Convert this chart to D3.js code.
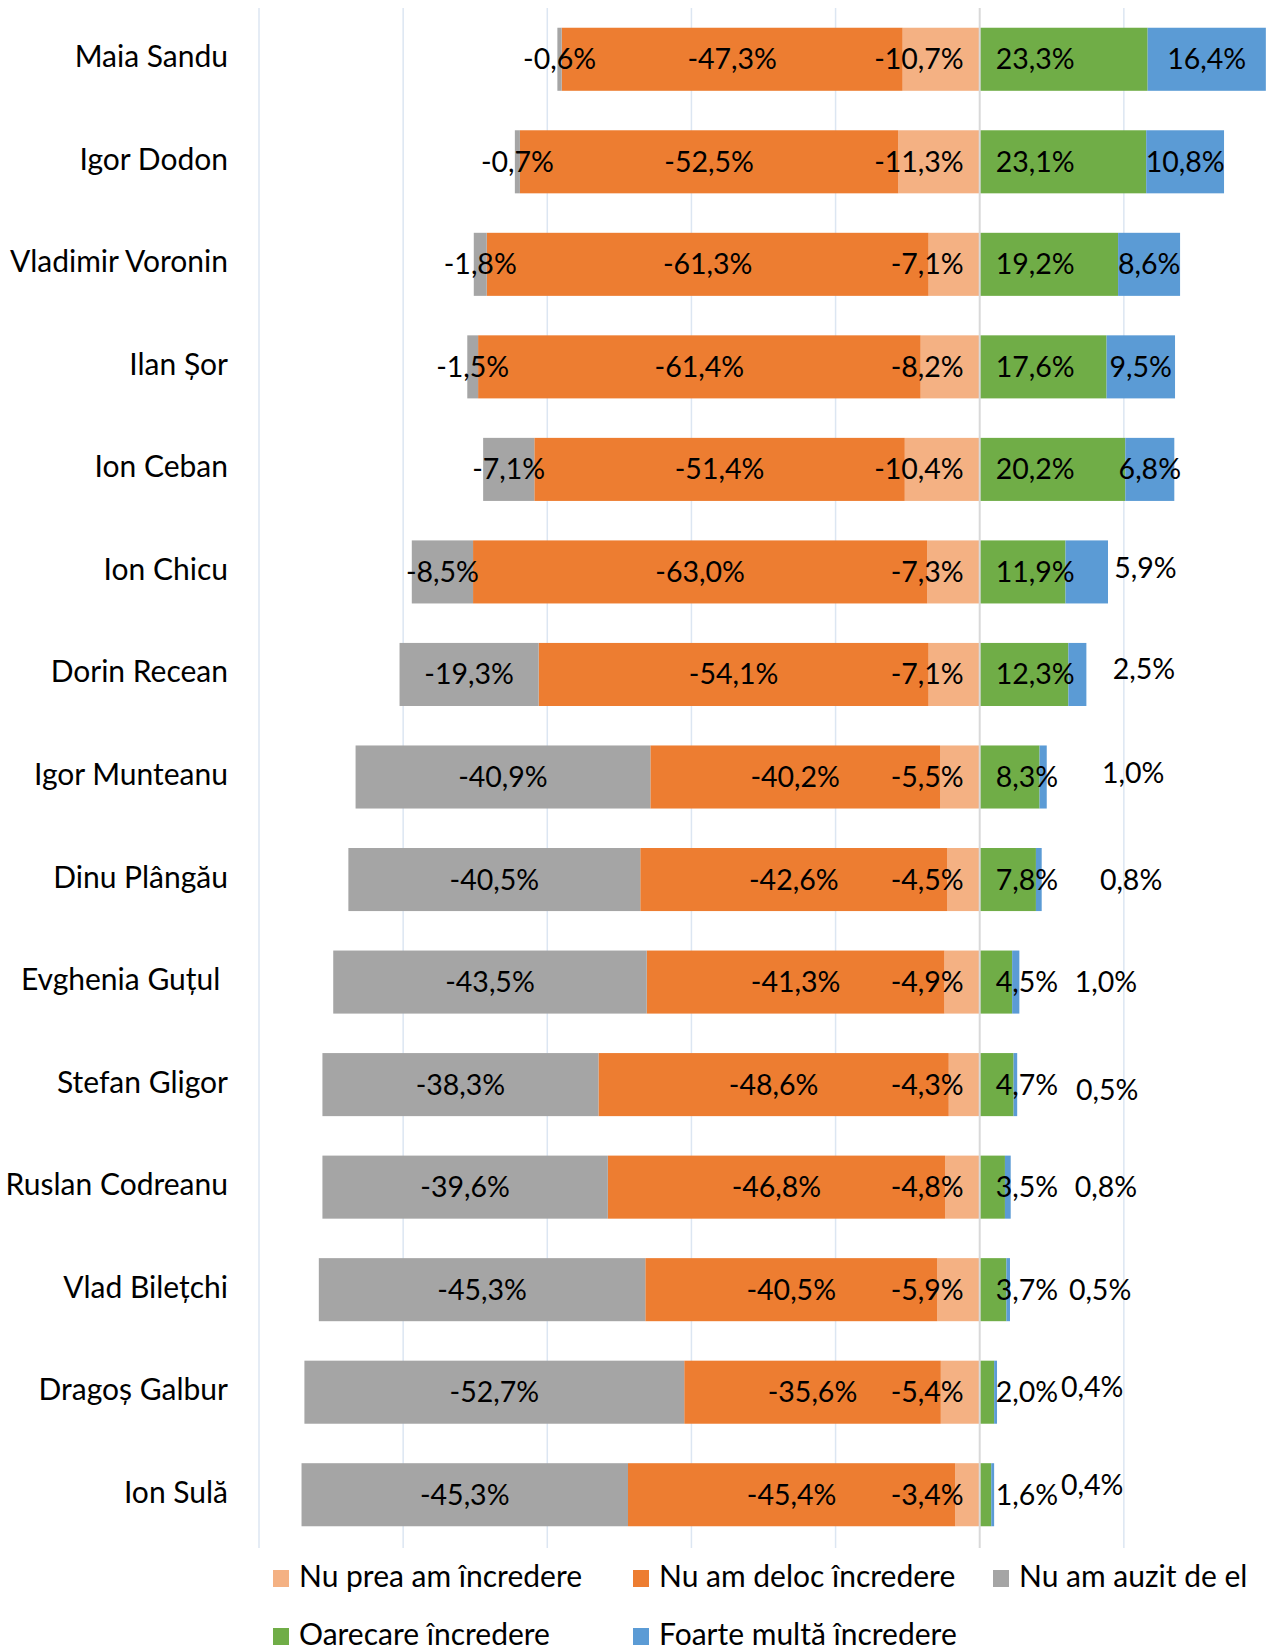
<!DOCTYPE html>
<html>
<head>
<meta charset="utf-8">
<script src="https://cdn.jsdelivr.net/npm/d3@7"></script>
<style>
  html, body { margin: 0; padding: 0; background: #fff; }
  svg { display: block; }
  text { font-family: Lato, "Noto Sans", sans-serif; fill: #000; }
</style>
</head>
<body>
<svg id="chart" width="1268" height="1652"></svg>
<script>
// ---------- DATA ----------
const categories = ["Maia Sandu", "Igor Dodon", "Vladimir Voronin", "Ilan Șor", "Ion Ceban",
  "Ion Chicu", "Dorin Recean", "Igor Munteanu", "Dinu Plângău", "Evghenia Guțul\u00a0",
  "Stefan Gligor", "Ruslan Codreanu", "Vlad Bilețchi", "Dragoș Galbur", "Ion Sulă"];
const nuPrea   = [10.7, 11.3, 7.1, 8.2, 10.4, 7.3, 7.1, 5.5, 4.5, 4.9, 4.3, 4.8, 5.9, 5.4, 3.4];
const nuDeloc  = [47.3, 52.5, 61.3, 61.4, 51.4, 63.0, 54.1, 40.2, 42.6, 41.3, 48.6, 46.8, 40.5, 35.6, 45.4];
const nuAuzit  = [0.6, 0.7, 1.8, 1.5, 7.1, 8.5, 19.3, 40.9, 40.5, 43.5, 38.3, 39.6, 45.3, 52.7, 45.3];
const oarecare = [23.3, 23.1, 19.2, 17.6, 20.2, 11.9, 12.3, 8.3, 7.8, 4.5, 4.7, 3.5, 3.7, 2.0, 1.6];
const foarte   = [16.4, 10.8, 8.6, 9.5, 6.8, 5.9, 2.5, 1.0, 0.8, 1.0, 0.5, 0.8, 0.5, 0.4, 0.4];
const seriesNames = ["Nu prea am încredere", "Nu am deloc încredere", "Nu am auzit de el",
  "Oarecare încredere", "Foarte multă încredere"];
const xTicks = [-100, -80, -60, -40, -20, 0, 20, 40];

// ---------- LAYOUT (not data) ----------
const colors = ["#F4B183", "#ED7D31", "#A5A5A5", "#70AD47", "#5B9BD5"];
// manual placement of the small "Foarte multă" labels: [x in axis units, dy px]; null = centred
const blueLabelPlace = [null, null, null, null, null, [23.0, -4], [22.8, -5], [21.3, -4], [21.0, 0],
  [17.5, 0], [17.7, 5], [17.5, 0], [16.7, 0], [15.6, -5], [15.6, -10]];

const svg = d3.select("#chart");
const W = 1268, H = 1652;
svg.append("rect").attr("width", W).attr("height", H).attr("fill", "#fff");

const x = d3.scaleLinear().domain([-100, 40]).range([259, 1268]);
const y = d3.scaleBand().domain(categories).range([8, 1546]).paddingInner(0.385).paddingOuter(0.1925);

// gridlines
const grid = svg.append("g");
grid.selectAll("line").data(xTicks.filter(t => t !== 0 && t !== 40)).join("line")
  .attr("x1", d => x(d)).attr("x2", d => x(d))
  .attr("y1", 8).attr("y2", 1548)
  .attr("stroke", "#DCE6F2").attr("stroke-width", 1.5);

// build segments
const segs = [];
categories.forEach((c, i) => {
  const left = [nuPrea[i], nuDeloc[i], nuAuzit[i]];
  let acc = 0;
  left.forEach((v, k) => {
    segs.push({ cat: c, i, k, x0: -(acc + v), x1: -acc, v: -v });
    acc += v;
  });
  const right = [oarecare[i], foarte[i]];
  acc = 0;
  right.forEach((v, k) => {
    segs.push({ cat: c, i, k: k + 3, x0: acc, x1: acc + v, v: v });
    acc += v;
  });
});

svg.append("g").selectAll("rect").data(segs).join("rect")
  .attr("x", d => x(d.x0))
  .attr("width", d => Math.max(0, x(d.x1) - x(d.x0)))
  .attr("y", d => y(d.cat))
  .attr("height", y.bandwidth())
  .attr("fill", d => colors[d.k]);

// zero axis line
svg.append("line")
  .attr("x1", x(0)).attr("x2", x(0)).attr("y1", 8).attr("y2", 1548)
  .attr("stroke", "#D9D9D9").attr("stroke-width", 2);

// category labels
svg.append("g").selectAll("text").data(categories).join("text")
  .attr("x", 228)
  .attr("y", d => y(d) + y.bandwidth() / 2 + 8)
  .attr("text-anchor", "end")
  .attr("font-size", 30)
  .style("white-space", "pre")
  .text(d => d);

// data labels
const fmt = v => (v < 0 ? "-" : "") + Math.abs(v).toFixed(1).replace(".", ",") + "%";
const lbl = svg.append("g").attr("font-size", 28.5);
segs.forEach(d => {
  const cy = y(d.cat) + y.bandwidth() / 2 + 10;
  let tx, anchor = "middle", dy = 0;
  if (d.k === 0) { tx = x(0) - 16; anchor = "end"; }
  else if (d.k === 3) { tx = x(0) + 16; anchor = "start"; }
  else if (d.k === 4 && blueLabelPlace[d.i]) { tx = x(blueLabelPlace[d.i][0]); dy = blueLabelPlace[d.i][1]; }
  else { tx = x((d.x0 + d.x1) / 2); }
  lbl.append("text").attr("x", tx).attr("y", cy + dy).attr("text-anchor", anchor).text(fmt(d.v));
});

// legend
const legendItems = [
  { k: 0, sx: 273, tx: 299, row: 0 },
  { k: 1, sx: 633, tx: 659, row: 0 },
  { k: 2, sx: 993, tx: 1019, row: 0 },
  { k: 3, sx: 273, tx: 299, row: 1 },
  { k: 4, sx: 633, tx: 659, row: 1 }
];
const lg = svg.append("g");
legendItems.forEach(it => {
  const base = 1587 + it.row * 58;
  lg.append("rect").attr("x", it.sx).attr("y", base - 17).attr("width", 16).attr("height", 17)
    .attr("fill", colors[it.k]);
  lg.append("text").attr("x", it.tx).attr("y", base).attr("font-size", 30).text(seriesNames[it.k]);
});
</script>
</body>
</html>
